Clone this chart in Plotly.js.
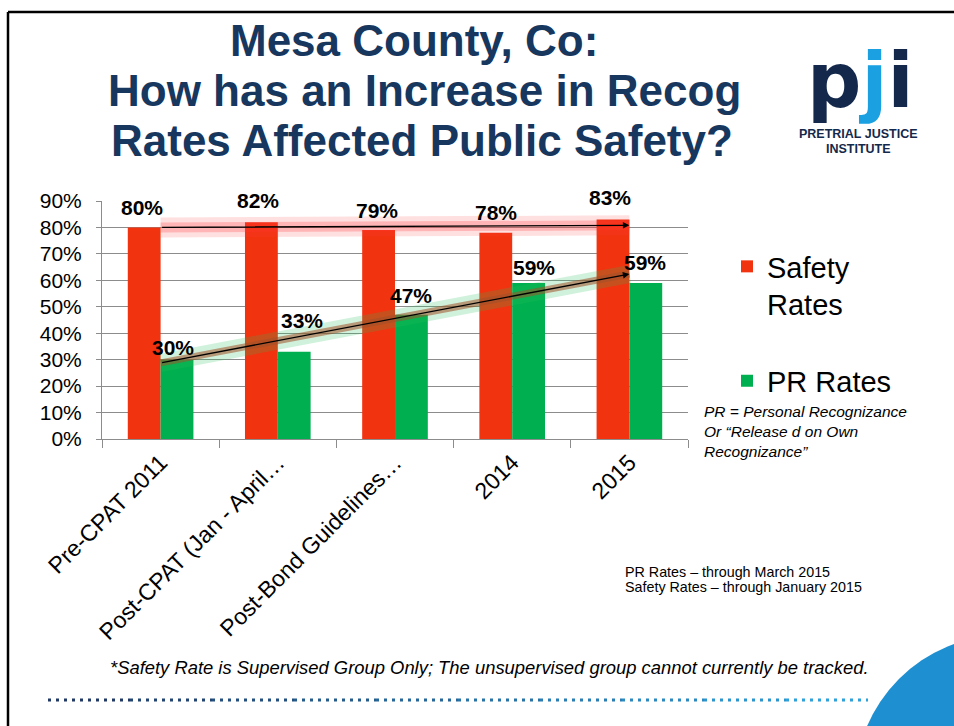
<!DOCTYPE html>
<html>
<head>
<meta charset="utf-8">
<script src="https://cdn.plot.ly/plotly-3.0.1.min.js"></script>
<style>html,body{margin:0;padding:0;background:#fff;}#chart{width:954px;height:726px;}</style>
</head>
<body>
<div id="chart"></div>
<script>
// ---- data ----
const categories = ["Pre-CPAT 2011", "Post-CPAT (Jan - April…", "Post-Bond Guidelines…", "2014", "2015"];
const safetyRates = [0.80, 0.82, 0.79, 0.78, 0.83];
const prRates = [0.30, 0.33, 0.47, 0.59, 0.59];
const seriesNames = ["Safety<br>Rates", "PR Rates"];
const yTickVals = [0, 0.1, 0.2, 0.3, 0.4, 0.5, 0.6, 0.7, 0.8, 0.9];

// label placement offsets (pixels) – layout only
const safetyLabelShift = {x: [-2, -3, -2, 0, -3], y: [20, 22, 20, 20, 22]};
const prLabelShift = {x: [-4, 8, -1, 5, -1], y: [12, 31, 19, 15, 20]};

// ---- helpers ----
const L = 102, R = 688, T = 201, B = 439;
const W = 954, H = 726;
const px2x = px => (px - L) / (R - L);
const px2y = py => (B - py) / (B - T);

function linfit(vals) {
  const n = vals.length;
  const mx = (n - 1) / 2;
  const my = vals.reduce((a, b) => a + b, 0) / n;
  let num = 0, den = 0;
  vals.forEach((v, i) => { num += (i - mx) * (v - my); den += (i - mx) * (i - mx); });
  const s = num / den;
  return [my - s * mx, my + s * (n - 1 - mx)];
}
const safetyTrend = linfit(safetyRates);
const prTrend = linfit(prRates);
const pct = v => Math.round(v * 100) + "%";

const RED = "#F2330F", GREEN = "#00B050", NAVY = "#17375E";
const FONT = "Liberation Sans, Arial, sans-serif";

const traces = [
  {type: "bar", name: seriesNames[0], x: categories, y: safetyRates, marker: {color: RED}, legendgroup: "a", hoverinfo: "skip"},
  {type: "bar", name: seriesNames[1], x: categories, y: prRates, marker: {color: GREEN}, legendgroup: "b", hoverinfo: "skip"},
  // trendline glows
  {type: "scatter", mode: "lines", x: [categories[0], categories[4]], y: safetyTrend, line: {color: "rgba(255,60,60,0.16)", width: 20}, showlegend: false, hoverinfo: "skip"},
  {type: "scatter", mode: "lines", x: [categories[0], categories[4]], y: safetyTrend, line: {color: "rgba(255,50,50,0.25)", width: 10}, showlegend: false, hoverinfo: "skip"},
  {type: "scatter", mode: "lines", x: [categories[0], categories[4]], y: prTrend, line: {color: "rgba(40,190,90,0.22)", width: 18}, showlegend: false, hoverinfo: "skip"},
  {type: "scatter", mode: "lines", x: [categories[0], categories[4]], y: prTrend, line: {color: "rgba(160,80,40,0.55)", width: 7}, showlegend: false, hoverinfo: "skip"}
];

const annotations = [];
// data labels
safetyRates.forEach((v, i) => annotations.push({
  x: i, y: v, xref: "x", yref: "y", text: pct(v), showarrow: false,
  xshift: -16.5 + safetyLabelShift.x[i], yshift: safetyLabelShift.y[i],
  font: {family: FONT, size: 21, color: "#000", weight: "bold"}
}));
prRates.forEach((v, i) => annotations.push({
  x: i, y: v, xref: "x", yref: "y", text: pct(v), showarrow: false,
  xshift: 16.5 + prLabelShift.x[i], yshift: prLabelShift.y[i],
  font: {family: FONT, size: 21, color: "#000", weight: "bold"}
}));
// trend arrows
[safetyTrend, prTrend].forEach(tr => annotations.push({
  x: categories.length - 1, y: tr[1], xref: "x", yref: "y",
  ax: 0, ay: tr[0], axref: "x", ayref: "y",
  showarrow: true, arrowhead: 2, arrowsize: 1, arrowwidth: 1.3, arrowcolor: "#000",
  standoff: 0, startstandoff: 0, text: ""
}));
// title lines
[["Mesa County, Co:", 414], ["How has an Increase in Recog", 424], ["Rates Affected Public Safety?", 422]].forEach(([t, cx], i) => annotations.push({
  x: px2x(cx), y: px2y(40 + 50 * i), xref: "paper", yref: "paper", text: t, showarrow: false,
  xanchor: "center", yanchor: "middle",
  font: {family: FONT, size: 44, color: NAVY, weight: "bold"}
}));
// logo
annotations.push({
  x: px2x(860), y: px2y(80), xref: "paper", yref: "paper",
  text: "<span style='color:#14284B'>p</span><span style='color:#1BA1E2'>j</span><span style='color:#14284B'>i</span>",
  showarrow: false, xanchor: "center", yanchor: "middle",
  font: {family: "DejaVu Sans, sans-serif", size: 76, color: "#14284B", weight: "bold"}
});
[["PRETRIAL JUSTICE", 134], ["INSTITUTE", 149]].forEach(([t, y]) => annotations.push({
  x: px2x(858), y: px2y(y), xref: "paper", yref: "paper", text: t, showarrow: false,
  xanchor: "center", yanchor: "middle",
  font: {family: FONT, size: 12.5, color: "#14284B", weight: "bold"}
}));
// PR definition
annotations.push({
  x: px2x(702), y: px2y(401), xref: "paper", yref: "paper",
  text: "PR = Personal Recognizance<br>Or “Release d on Own<br>Recognizance”",
  showarrow: false, xanchor: "left", yanchor: "top", align: "left",
  font: {family: FONT, size: 15.5, color: "#000", style: "italic"}
});
// notes
[["PR Rates – through March 2015", 572], ["Safety Rates – through January 2015", 587]].forEach(([t, y]) => annotations.push({
  x: px2x(623), y: px2y(y), xref: "paper", yref: "paper", text: t, showarrow: false,
  xanchor: "left", yanchor: "middle",
  font: {family: FONT, size: 14.3, color: "#000"}
}));
// footnote
annotations.push({
  x: px2x(489), y: px2y(667), xref: "paper", yref: "paper",
  text: "*Safety Rate is Supervised Group Only; The unsupervised group cannot currently be tracked.",
  showarrow: false, xanchor: "center", yanchor: "middle",
  font: {family: FONT, size: 18.4, color: "#000", style: "italic"}
});

// shapes
const shapes = [];
// slide border
shapes.push({type: "line", xref: "paper", yref: "paper", x0: px2x(8), x1: px2x(960), y0: px2y(12), y1: px2y(12), line: {color: "#000", width: 2.5}});
shapes.push({type: "line", xref: "paper", yref: "paper", x0: px2x(8), x1: px2x(8), y0: px2y(12), y1: px2y(730), line: {color: "#000", width: 2.5}});
// dotted gradient line
const segs = 10, dx0 = 48, dx1 = 868;
const c0 = [31, 56, 100], c1 = [46, 160, 218];
for (let s = 0; s < segs; s++) {
  const t = s / (segs - 1);
  const c = c0.map((v, k) => Math.round(v + (c1[k] - v) * t));
  shapes.push({type: "line", xref: "paper", yref: "paper",
    x0: px2x(dx0 + (dx1 - dx0) * s / segs), x1: px2x(dx0 + (dx1 - dx0) * (s + 1) / segs),
    y0: px2y(700), y1: px2y(700),
    line: {color: `rgb(${c.join(",")})`, width: 3, dash: "3px,5px"}});
}
// blue circle corner
shapes.push({type: "circle", xref: "paper", yref: "paper",
  x0: px2x(855), x1: px2x(1155), y0: px2y(935), y1: px2y(635),
  fillcolor: "#1E90D2", line: {width: 0}});

const layout = {
  width: W, height: H,
  margin: {l: L, r: W - R, t: T, b: H - B, pad: 0},
  paper_bgcolor: "#fff", plot_bgcolor: "#fff",
  barmode: "group", bargap: 0.44, bargroupgap: 0,
  showlegend: true,
  legend: {x: px2x(727), y: px2y(241), xanchor: "left", yanchor: "top",
    font: {family: FONT, size: 29, color: "#000"}, valign: "top",
    traceorder: "grouped", tracegroupgap: 36, bgcolor: "rgba(0,0,0,0)"},
  xaxis: {type: "category", showgrid: false, showline: true, linecolor: "#8c8c8c", linewidth: 1,
    ticks: "outside", tickson: "boundaries", ticklen: 8, tickcolor: "#8c8c8c",
    tickangle: -45, tickfont: {family: FONT, size: 23, color: "#000"}, fixedrange: true},
  yaxis: {range: [0, 0.9], tickvals: yTickVals, tickformat: ".0%",
    showgrid: true, gridcolor: "#8c8c8c", gridwidth: 1, showline: true, linecolor: "#8c8c8c",
    ticks: "outside", ticklen: 5, tickcolor: "#8c8c8c", ticklabelstandoff: 10,
    tickfont: {family: FONT, size: 21, color: "#000"}, zeroline: false, fixedrange: true},
  annotations: annotations,
  shapes: shapes,
  hovermode: false
};

Plotly.newPlot("chart", traces, layout, {displayModeBar: false, staticPlot: true});
</script>
</body>
</html>
